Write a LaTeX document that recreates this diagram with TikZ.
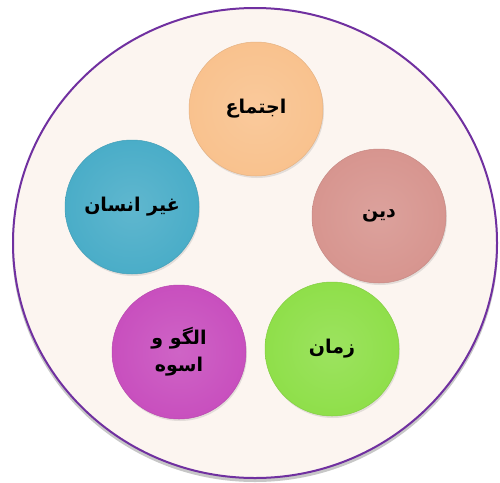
\documentclass[tikz,border=0pt]{standalone}
\usepackage{fontspec}
\newfontfamily\arabicfont[Script=Arabic]{DejaVu Sans}
\TeXXeTstate=1
\usetikzlibrary{shadows}
\definecolor{outerfill}{HTML}{FCF5F0}
\definecolor{outerline}{HTML}{7030A0}
\definecolor{cpeach}{HTML}{F9C28E}
\definecolor{cblue}{HTML}{4AADC8}
\definecolor{cpink}{HTML}{D7958F}
\definecolor{cgreen}{HTML}{8FDF4A}
\definecolor{cmag}{HTML}{C84FBE}
\tikzset{
  ball/.style={circle, minimum size=134pt, inner sep=0pt, draw=#1!92!black, line width=0.5pt,
    inner color=#1!88!white, outer color=#1,
    drop shadow={opacity=0.2, shadow xshift=1pt, shadow yshift=-2pt},
    font=\arabicfont\bfseries\fontsize{19}{27}\selectfont, text=black, align=center},
}
\begin{document}
\begin{tikzpicture}[x=1pt,y=-1pt]
\useasboundingbox (0,0) rectangle (500,482);
\fill[black!22] (255,246) ellipse (243 and 236);
\draw[fill=outerfill, draw=outerline, line width=2pt] (255,243) ellipse (242 and 235);
\node[ball=cpeach] (ejtema) at (256,109) {\beginR اجتماع\endR};
\node[ball=cblue] (gheir) at (132,207) {\beginR غیر انسان\endR};
\node[ball=cpink] (din) at (379,216) {\beginR دین\endR};
\node[ball=cgreen] (zaman) at (332,349) {\beginR زمان\endR};
\node[ball=cmag] (olgoo) at (179,352) {\beginR الگو و\endR\\\beginR اسوه\endR};
\end{tikzpicture}
\end{document}
